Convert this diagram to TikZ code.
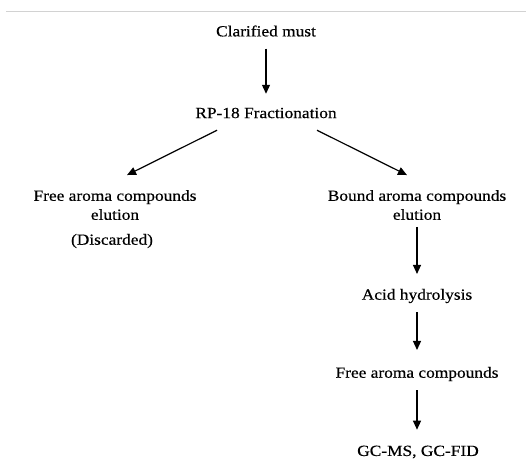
\documentclass[tikz,border=0pt]{standalone}
\usepackage{fontspec}
\setmainfont{Liberation Serif}[FakeStretch=1.12,FakeBold=0.4]
\usetikzlibrary{arrows.meta}

\tikzset{
  label/.style={inner sep=0pt, outer sep=0pt, align=center,
    font=\fontsize{15.5}{19}\selectfont},
  arr/.style={-{Triangle[width=8pt,length=9pt]}, line width=1.2pt}
}

\begin{document}
\begin{tikzpicture}[x=1pt,y=-1pt]
  \useasboundingbox (0,0) rectangle (526,459);

  % Draw the thin rule at the top
  \draw[gray!35, line width=0.8pt] (6,11) -- (526,11);

  % Draw the steps
  \node[label] (must) at (266,31) {Clarified must};
  \node[label] (rp) at (266,113) {RP-18 Fractionation};
  \node[label] (free) at (115,205) {Free aroma compounds\\elution};
  \node[label] (disc) at (112,241) {(Discarded)};
  \node[label] (bound) at (417,205) {Bound aroma compounds\\elution};
  \node[label] (acid) at (417,296) {Acid hydrolysis};
  \node[label] (freec) at (417,374) {Free aroma compounds};
  \node[label] (gc) at (418,452) {GC-MS, GC-FID};

  % Draw the arrows
  \draw[arr, shorten <=12pt, shorten >=14pt] (must) -- (rp);
  \draw[arr] ([shift={(-49,12)}]rp.south) -- ([shift={(12,-15)}]free.north);
  \draw[arr] ([shift={(51,12)}]rp.south) -- ([shift={(-10,-15)}]bound.north);
  \draw[arr, shorten <=7pt, shorten >=15pt] (bound) -- (acid);
  \draw[arr, shorten <=9pt, shorten >=17pt] (acid) -- (freec);
  \draw[arr, shorten <=9pt, shorten >=16pt] (freec) -- (gc.north -| freec);
\end{tikzpicture}
\end{document}
